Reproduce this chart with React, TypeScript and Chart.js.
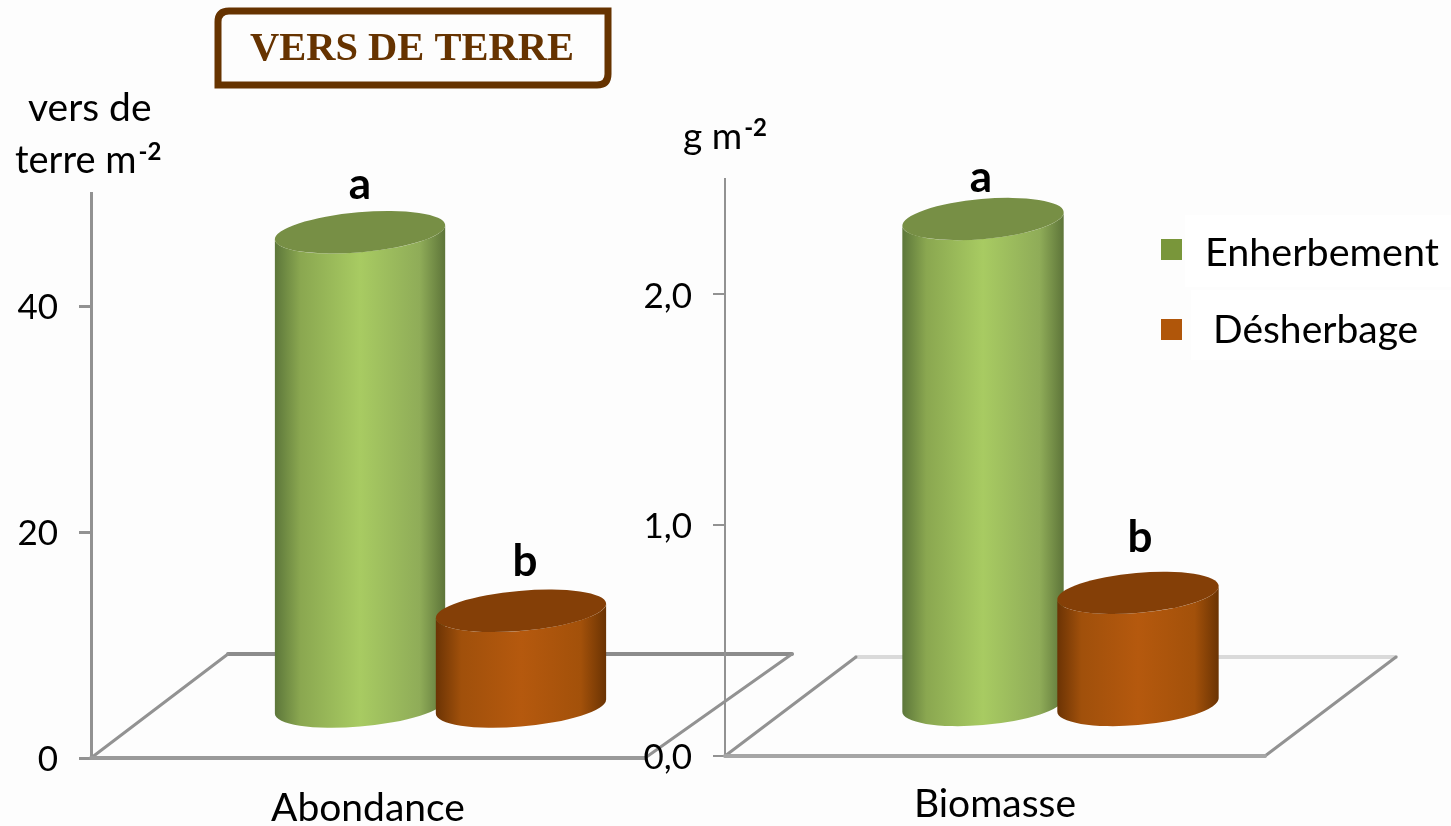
import React, { useEffect, useRef } from "react";
import { Chart, registerables } from "chart.js";

Chart.register(...registerables);

const seriesNames = ["Enherbement", "Désherbage"];
const seriesColors = ["#79963a", "#b0560a"];
const abundanceCategory = ["Abondance"];
const biomassCategory = ["Biomasse"];
const abundanceEnherbement = [42.1];
const abundanceDesherbage = [8.6];
const biomassEnherbement = [2.11];
const biomassDesherbage = [0.49];
const significanceAbundance = ["a", "b"];
const significanceBiomass = ["a", "b"];

const SANS = "Lato, 'Open Sans', sans-serif";
const TEXT_SIZE = 39;
const TICK_SIZE = 35;
const TILT = (-5 * Math.PI) / 180;

const palettes = [
  { top: "#778f45", stops: ["#5c763a", "#8aa750", "#a8cb62", "#8fac58", "#5d7439"] },
  { top: "#843f07", stops: ["#6b3304", "#a0500b", "#b5590e", "#a3510a", "#6a3303"] },
];

function cylinder(ctx: CanvasRenderingContext2D, cx: number, topY: number, botY: number, w: number, ry: number, p: any) {
  const rx = w / 2;
  const t0 = Math.atan2(-ry * Math.sin(TILT), rx * Math.cos(TILT));
  const g = ctx.createLinearGradient(cx - rx, 0, cx + rx, 0);
  [0, 0.15, 0.5, 0.85, 1].forEach((s, i) => g.addColorStop(s, p.stops[i]));
  ctx.fillStyle = g;
  ctx.beginPath();
  ctx.ellipse(cx, botY, rx, ry, TILT, t0, t0 + Math.PI);
  ctx.ellipse(cx, topY, rx, ry, TILT, t0 + Math.PI, t0, true);
  ctx.closePath();
  ctx.fill();
  ctx.fillStyle = p.top;
  ctx.beginPath();
  ctx.ellipse(cx, topY, rx, ry, TILT, 0, Math.PI * 2);
  ctx.fill();
}

function panelPlugin(cfg: any) {
  return {
    id: "panel" + cfg.id,
    beforeDatasetDraw: () => false,
    beforeDatasetsDraw(chart: any) {
      const { ctx, chartArea: a } = chart;
      ctx.save();
      ctx.lineCap = "round";
      const seg = (x1: number, y1: number, x2: number, y2: number, c: string, lw: number) => {
        ctx.strokeStyle = c;
        ctx.lineWidth = lw;
        ctx.beginPath();
        ctx.moveTo(x1, y1);
        ctx.lineTo(x2, y2);
        ctx.stroke();
      };
      const backRight = a.right + cfg.depthX + cfg.skew;
      const backY = a.bottom - cfg.depthY;
      seg(a.left + cfg.depthX, backY, backRight, backY, cfg.backColor, 4);
      seg(a.left, a.bottom, a.left + cfg.depthX, backY, "#929292", 3);
      seg(a.right, a.bottom, backRight, backY, "#929292", 3);
      seg(a.left, a.bottom, a.right, a.bottom, cfg.frontColor, 4);
      ctx.restore();
    },
    afterDatasetsDraw(chart: any) {
      const { ctx } = chart;
      ctx.save();
      chart.data.datasets.forEach((_: any, i: number) => {
        const el = chart.getDatasetMeta(i).data[0];
        const cx = el.x + cfg.shiftX;
        cylinder(ctx, cx, el.y - cfg.shiftY, el.base - cfg.shiftY, el.width, 20, palettes[i]);
      });
      ctx.fillStyle = "#000";
      ctx.font = `bold 44px ${SANS}`;
      ctx.textAlign = "center";
      ctx.textBaseline = "middle";
      chart.data.datasets.forEach((_: any, i: number) => {
        const el = chart.getDatasetMeta(i).data[0];
        ctx.fillText(cfg.letters[i], el.x + cfg.shiftX + cfg.letterDX[i], el.y - cfg.shiftY - cfg.letterDY[i]);
      });
      ctx.restore();
      cfg.extra && cfg.extra(chart);
    },
  };
}

function supText(ctx: CanvasRenderingContext2D, base: string, sup: string, x: number, y: number, size: number) {
  ctx.textAlign = "left";
  ctx.textBaseline = "alphabetic";
  ctx.font = `${size}px ${SANS}`;
  ctx.fillText(base, x, y);
  const w = ctx.measureText(base).width;
  ctx.font = `bold 24px ${SANS}`;
  ctx.fillText(sup, x + w + 2, y - 13);
}

function drawLeftExtras(chart: any) {
  const { ctx } = chart;
  ctx.save();
  ctx.fillStyle = "#000";
  ctx.font = `${TEXT_SIZE}px ${SANS}`;
  ctx.textAlign = "left";
  ctx.textBaseline = "alphabetic";
  ctx.fillText("vers de", 28, 121);
  supText(ctx, "terre m", "-2", 15, 173, TEXT_SIZE - 1);

  // title box
  ctx.strokeStyle = "#663300";
  ctx.lineWidth = 7;
  ctx.lineJoin = "miter";
  const x0 = 218, y0 = 11, x1 = 608, y1 = 85, r = 11;
  ctx.beginPath();
  ctx.moveTo(x0 + r, y0);
  ctx.lineTo(x1, y0);
  ctx.lineTo(x1, y1 - r);
  ctx.quadraticCurveTo(x1, y1, x1 - r, y1);
  ctx.lineTo(x0, y1);
  ctx.lineTo(x0, y0 + r);
  ctx.quadraticCurveTo(x0, y0, x0 + r, y0);
  ctx.closePath();
  ctx.stroke();
  ctx.fillStyle = "#663300";
  ctx.font = "bold 40.5px 'Liberation Serif', serif";
  ctx.textAlign = "center";
  ctx.textBaseline = "middle";
  ctx.fillText("VERS DE TERRE", 412, 50);
  ctx.restore();
}

function drawRightExtras(chart: any) {
  const { ctx } = chart;
  ctx.save();
  ctx.fillStyle = "#000";
  supText(ctx, "g m", "-2", 683, 149, TEXT_SIZE - 2);
  ctx.fillStyle = "#ffffff";
  ctx.fillRect(1185, 215, 266, 72);
  ctx.fillRect(1191, 290, 260, 70);
  const rows = [
    { box: 239, tx: 1205, ty: 253, size: TEXT_SIZE + 0.5 },
    { box: 319, tx: 1213, ty: 330, size: TEXT_SIZE },
  ];
  chart.data.datasets.forEach((d: any, i: number) => {
    ctx.fillStyle = d.backgroundColor;
    ctx.fillRect(1161, rows[i].box, 21, 21);
    ctx.fillStyle = "#000";
    ctx.font = `${rows[i].size}px ${SANS}`;
    ctx.textAlign = "left";
    ctx.textBaseline = "middle";
    ctx.fillText(d.label, rows[i].tx, rows[i].ty);
  });
  ctx.restore();
}

function makeOptions(o: any): any {
  return {
    animation: false,
    responsive: false,
    layout: { padding: { top: o.top, right: o.right, left: 0, bottom: 0 } },
    plugins: { legend: { display: false }, tooltip: { enabled: false }, title: { display: false } },
    scales: {
      x: {
        afterFit: (s: any) => { s.height = 826 - o.bottom; },
        grid: { display: false },
        border: { display: false },
        ticks: { color: "#000", font: { family: SANS, size: TEXT_SIZE }, padding: o.xPad, maxRotation: 0 },
      },
      y: {
        min: 0,
        max: o.max,
        afterFit: (s: any) => { s.width = o.left; },
        grid: { drawOnChartArea: false, color: o.axisColor, lineWidth: o.axisWidth, tickLength: 12 },
        border: { color: o.axisColor, width: o.axisWidth },
        ticks: {
          color: "#000",
          stepSize: o.step,
          includeBounds: false,
          padding: 21,
          labelOffset: 2,
          font: { family: SANS, size: TICK_SIZE },
          callback: o.format,
        },
      },
    },
  };
}

export default function App() {
  const leftRef = useRef<HTMLCanvasElement>(null);
  const rightRef = useRef<HTMLCanvasElement>(null);

  useEffect(() => {
    const barDs = (label: string, data: number[], color: string, cat: number, bar: number) => ({
      label, data, backgroundColor: color, categoryPercentage: cat, barPercentage: bar,
    });
    const left = new Chart(leftRef.current!, {
      type: "bar",
      data: {
        labels: abundanceCategory,
        datasets: [
          barDs(seriesNames[0], abundanceEnherbement, seriesColors[0], 0.581, 1.062),
          barDs(seriesNames[1], abundanceDesherbage, seriesColors[1], 0.581, 1.062),
        ],
      },
      options: makeOptions({
        left: 91, top: 193, bottom: 758, right: 1451 - 645, max: 50, step: 20, xPad: 19,
        axisColor: "#929292", axisWidth: 3, format: (v: any) => String(v),
      }),
      plugins: [panelPlugin({
        id: "L", depthX: 137, depthY: 104, skew: 10, shiftX: 72.5, shiftY: 50, backColor: "#8c8c8c", frontColor: "#9a9a9a",
        letters: significanceAbundance, letterDX: [0, 4], letterDY: [47, 49], extra: drawLeftExtras,
      })],
    } as any);
    const right = new Chart(rightRef.current!, {
      type: "bar",
      data: {
        labels: biomassCategory,
        datasets: [
          barDs(seriesNames[0], biomassEnherbement, seriesColors[0], 0.574, 1.045),
          barDs(seriesNames[1], biomassDesherbage, seriesColors[1], 0.574, 1.045),
        ],
      },
      options: makeOptions({
        left: 725, top: 179, bottom: 756, right: 1451 - 1265, max: 2.5, step: 1, xPad: 17,
        axisColor: "#929292", axisWidth: 2, format: (v: any) => Number(v).toFixed(1).replace(".", ","),
      }),
      plugins: [panelPlugin({
        id: "R", depthX: 131, depthY: 99, skew: 0, shiftX: 65.5, shiftY: 50, backColor: "#dadada", frontColor: "#a6a6a6",
        letters: significanceBiomass, letterDX: [-2, 2], letterDY: [41, 55], extra: drawRightExtras,
      })],
    } as any);
    return () => { left.destroy(); right.destroy(); };
  }, []);

  const cv: React.CSSProperties = { position: "absolute", left: 0, top: 0, display: "block" };
  return (
    <div style={{ position: "fixed", left: 0, top: 0, width: 1451, height: 826, background: "#fdfdfd", overflow: "hidden" }}>
      <canvas ref={leftRef} width={1451} height={826} style={cv} />
      <canvas ref={rightRef} width={1451} height={826} style={cv} />
    </div>
  );
}
